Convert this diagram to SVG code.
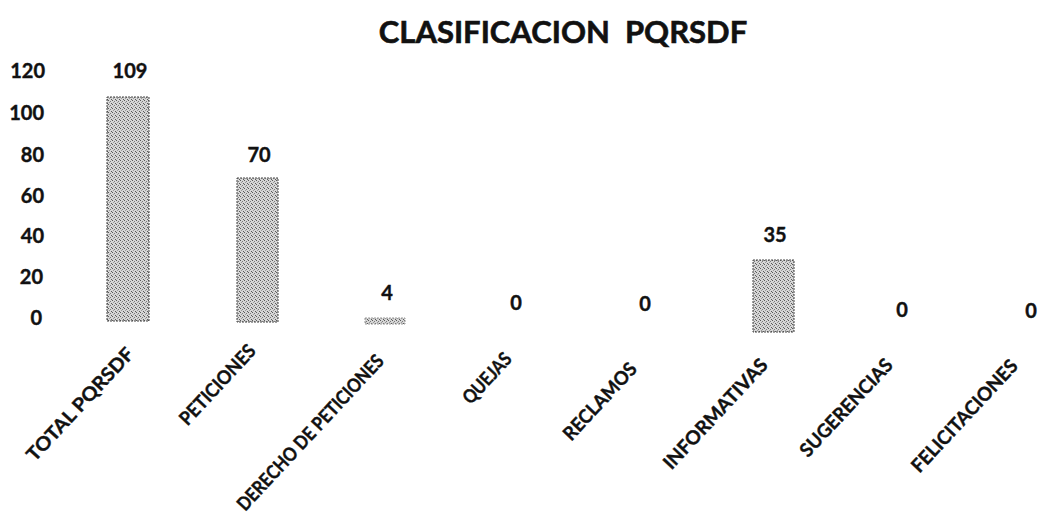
<svg xmlns="http://www.w3.org/2000/svg" width="1039" height="527" viewBox="0 0 1039 527">
<defs>
<pattern id="stip" width="4" height="4" patternUnits="userSpaceOnUse">
<rect width="4" height="4" fill="#d6d6d6"/>
<rect x="0" y="0" width="1" height="1" fill="#5a5a5a"/>
<rect x="2" y="1" width="1" height="1" fill="#7a7a7a"/>
<rect x="1" y="2" width="1" height="1" fill="#999"/>
<rect x="3" y="3" width="1" height="1" fill="#5a5a5a"/>
</pattern>
</defs>
<style>
text{font-family:Lato,"Liberation Sans",sans-serif;font-weight:bold;fill:#111;stroke:#111;stroke-width:0.4}
.t{font-size:31px;text-anchor:middle;stroke-width:0.6}
.ax{font-size:20px;text-anchor:end}
.v{font-size:20px;text-anchor:middle}
.c{font-size:19px;text-anchor:end}
.bar{fill:url(#stip);stroke:#444;stroke-width:1;stroke-dasharray:2 1}
.bar.light{stroke:#999}
</style>
<rect width="1039" height="527" fill="#fff"/>
<g id="title"><text class="t" x="563" y="43" xml:space="preserve">CLASIFICACION  PQRSDF</text></g>
<g id="y-axis">
<text class="ax" x="45" y="78">120</text>
<text class="ax" x="44" y="120">100</text>
<text class="ax" x="44" y="162">80</text>
<text class="ax" x="44" y="203">60</text>
<text class="ax" x="44" y="243">40</text>
<text class="ax" x="43" y="284">20</text>
<text class="ax" x="42" y="325">0</text>
</g>
<g id="bar-total"><rect class="bar" x="107" y="97" width="42" height="224"/><text class="v" x="130" y="78">109</text><text class="c" transform="translate(135,355) rotate(-47)" textLength="147" lengthAdjust="spacingAndGlyphs">TOTAL PQRSDF</text></g>
<g id="bar-peticiones"><rect class="bar" x="237" y="178" width="41" height="144"/><text class="v" x="259" y="162">70</text><text class="c" transform="translate(257,352) rotate(-47)" textLength="102" lengthAdjust="spacingAndGlyphs">PETICIONES</text></g>
<g id="bar-derecho"><rect class="bar light" x="365" y="318" width="40" height="6"/><text class="v" x="387" y="300">4</text><text class="c" transform="translate(385,362) rotate(-47)" textLength="205" lengthAdjust="spacingAndGlyphs">DERECHO DE PETICIONES</text></g>
<g id="bar-quejas"><text class="v" x="516" y="310">0</text><text class="c" transform="translate(513,360) rotate(-47)" textLength="62" lengthAdjust="spacingAndGlyphs">QUEJAS</text></g>
<g id="bar-reclamos"><text class="v" x="645" y="311">0</text><text class="c" transform="translate(638,370) rotate(-47)" textLength="98" lengthAdjust="spacingAndGlyphs">RECLAMOS</text></g>
<g id="bar-informativas"><rect class="bar" x="753" y="260" width="41" height="72"/><text class="v" x="775" y="242">35</text><text class="c" transform="translate(769,366) rotate(-47)" textLength="143" lengthAdjust="spacingAndGlyphs">INFORMATIVAS</text></g>
<g id="bar-sugerencias"><text class="v" x="902" y="317">0</text><text class="c" transform="translate(894,366) rotate(-47)" textLength="126" lengthAdjust="spacingAndGlyphs">SUGERENCIAS</text></g>
<g id="bar-felicitaciones"><text class="v" x="1031" y="318">0</text><text class="c" transform="translate(1019,367) rotate(-47)" textLength="146" lengthAdjust="spacingAndGlyphs">FELICITACIONES</text></g>
<g id="connectors"/>
</svg>
